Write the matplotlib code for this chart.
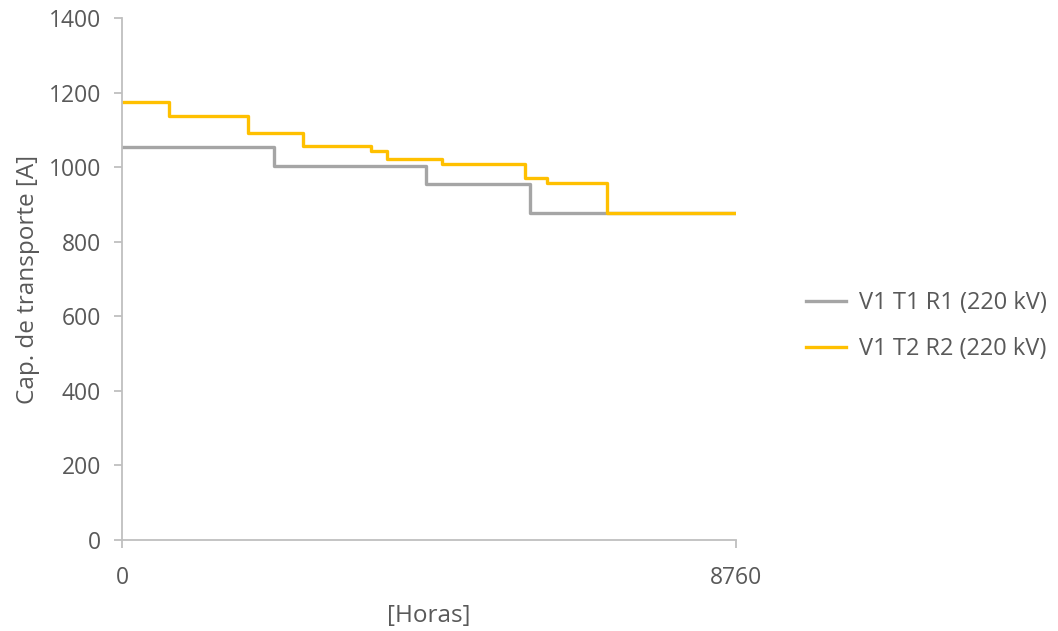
import matplotlib
matplotlib.use("Agg")
import matplotlib.pyplot as plt

# Data (hours, ampacity) - step functions
t1_hours = [0, 2169, 4342, 5821, 8760]
t1_values = [1055, 1004, 956, 877, 877]
t2_hours = [0, 675, 1802, 2578, 3548, 3785, 4561, 5750, 6059, 6924, 8760]
t2_values = [1175, 1138, 1091, 1057, 1044, 1021, 1008, 970, 957, 876, 876]
series_labels = ["V1 T1 R1 (220 kV)", "V1 T2 R2 (220 kV)"]
x_ticks = [0, 8760]
y_ticks = [0, 200, 400, 600, 800, 1000, 1200, 1400]

plt.rcParams['font.family'] = ['Open Sans', 'DejaVu Sans']
txt = '#595959'
spine = '#BFBFBF'

fig = plt.figure(figsize=(10.58, 6.31), dpi=100)
ax = fig.add_axes([122/1058, 1 - 540/631, (736-122)/1058, (540-18)/631])

ax.step(t1_hours, t1_values, where='post', color='#A5A5A5', lw=2.4, label=series_labels[0])
ax.step(t2_hours, t2_values, where='post', color='#FFC000', lw=2.4, label=series_labels[1])

ax.set_xlim(0, 8760)
ax.set_ylim(0, 1400)
ax.set_xticks(x_ticks)
ax.set_yticks(y_ticks)
for s in ['top', 'right']:
    ax.spines[s].set_visible(False)
for s in ['left', 'bottom']:
    ax.spines[s].set_color(spine)
    ax.spines[s].set_linewidth(1.3)
ax.tick_params(axis='both', colors=spine, labelcolor=txt, labelsize=16.5, length=6, width=1.3)
ax.tick_params(axis='x', pad=13)
ax.tick_params(axis='y', pad=9)
ax.set_ylabel('Cap. de transporte [A]', color=txt, fontsize=17.5, labelpad=6)
ax.set_xlabel('[Horas]', color=txt, fontsize=17.5, labelpad=10)

leg = fig.legend(loc='center left', bbox_to_anchor=(785/1058, 1 - 326/631), frameon=False,
                 fontsize=17, labelcolor=txt, handlelength=1.7, labelspacing=0.95, handletextpad=0.55)

fig.savefig('out.png', dpi=100)
